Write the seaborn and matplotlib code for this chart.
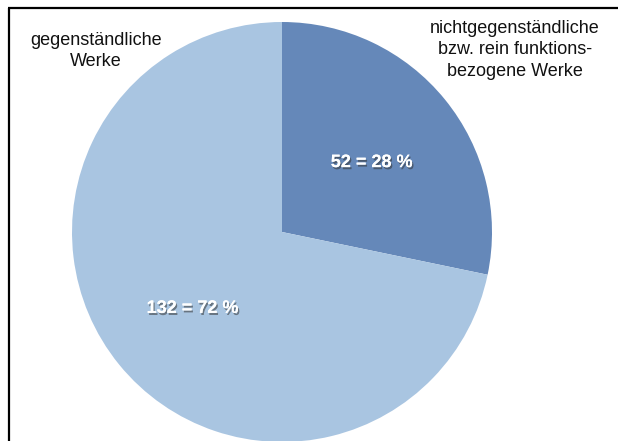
import matplotlib
matplotlib.use('Agg')
import matplotlib.pyplot as plt
import matplotlib.patheffects as pe
import seaborn as sns

# data
categories = ['nichtgegenständliche\nbzw. rein funktions-\nbezogene Werke', 'gegenständliche\nWerke']
counts = [52, 132]
total = sum(counts)

sns.set_theme(style='white')
plt.rcParams['font.family'] = ['Liberation Sans', 'DejaVu Sans']
colors = ['#6588b9', '#a9c5e1']

W, H = 618, 441
fig = plt.figure(figsize=(W / 100, H / 100), dpi=100)
ax = fig.add_axes([0, 0, 1, 1])

wedges, texts, autotexts = ax.pie(
    counts, colors=colors, startangle=90, counterclock=False,
    center=(282, H - 232), radius=210, labeldistance=None,
    autopct=lambda p: f'{round(p * total / 100)} = {p:.0f} %', pctdistance=0.55,
    wedgeprops=dict(linewidth=0), frame=True)
ax.set_xlim(0, W)
ax.set_ylim(0, H)
ax.set_aspect('equal')
ax.axis('off')

for t in autotexts:
    x, y = t.get_position()
    t.set_position((x, y - 3.5))
    t.set_color('white')
    t.set_fontsize(13)
    t.set_fontweight('bold')
    t.set_path_effects([pe.withSimplePatchShadow(offset=(1, -1.5), shadow_rgbFace='#333333', alpha=0.55),
                        pe.Normal()])

# corner labels
ax.text(96, H - 51, categories[1], ha='center', va='center', fontsize=13,
        color='#111111', linespacing=1.32)
ax.text(515, H - 50, categories[0], ha='center', va='center', fontsize=13,
        color='#111111', linespacing=1.32)

# frame lines (top and left)
ax.plot([8, W], [H - 8, H - 8], color='black', lw=1.6, solid_capstyle='butt', clip_on=False)
ax.plot([8.5, 8.5], [0, H - 8], color='black', lw=1.6, solid_capstyle='butt', clip_on=False)

fig.savefig('out.png', dpi=100)
